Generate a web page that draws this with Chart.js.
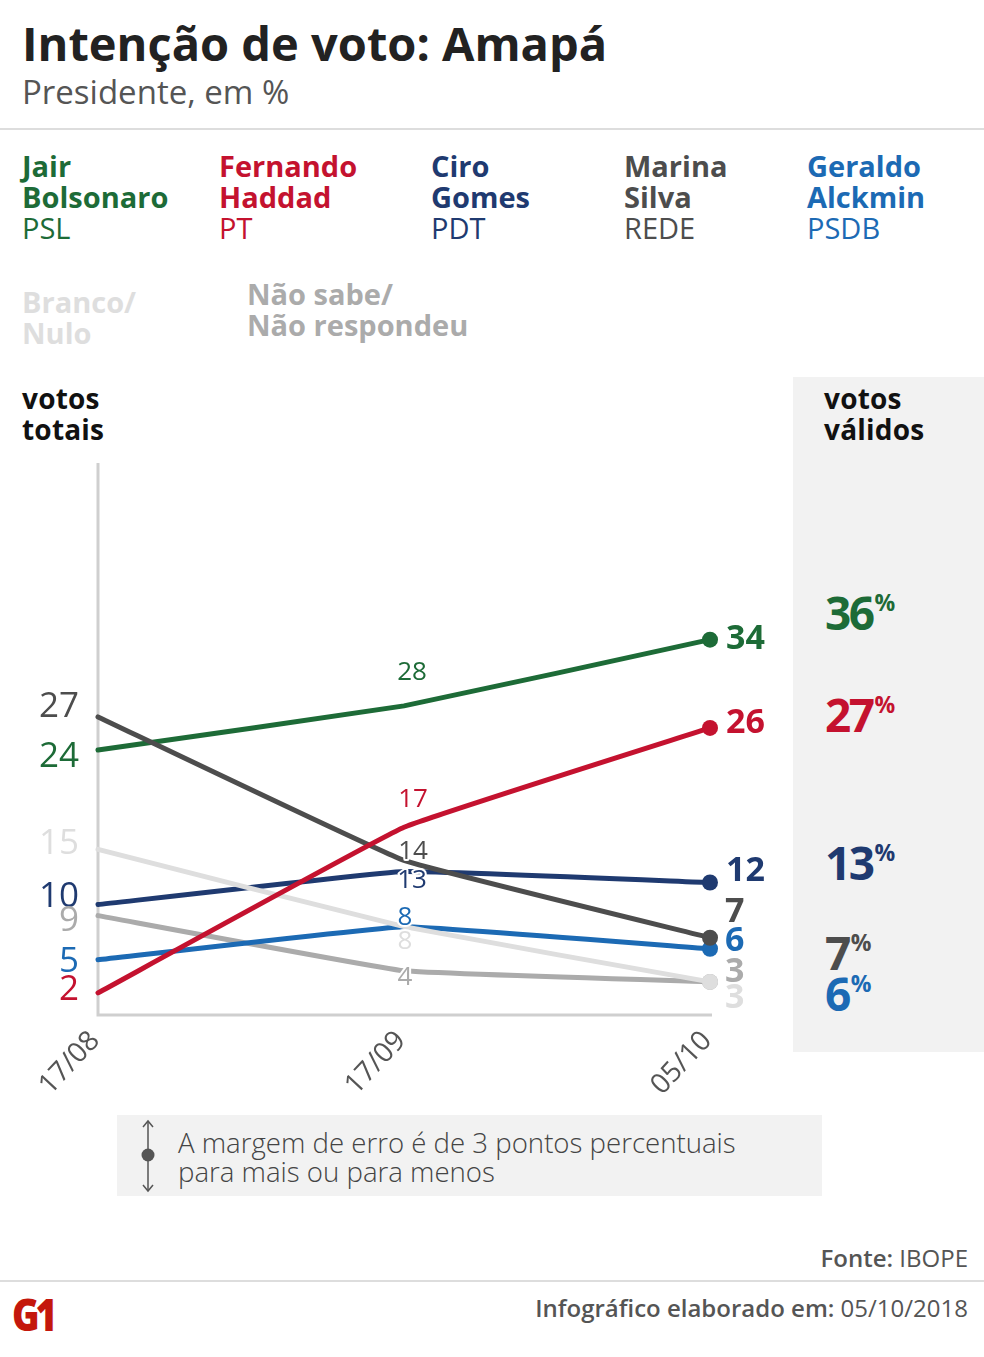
<!DOCTYPE html>
<html lang="pt-BR">
<head>
<meta charset="utf-8">
<title>Intenção de voto: Amapá</title>
<script src="https://cdn.jsdelivr.net/npm/chart.js@4.4.1/dist/chart.umd.min.js"></script>
<style>
  html, body { margin: 0; padding: 0; background: #fff; }
  body { width: 984px; height: 1357px; position: relative; overflow: hidden; font-family: 'Open Sans', sans-serif; color: #222; }
  .abs { position: absolute; white-space: nowrap; }
  #title { left: 22px; top: 20px; font-size: 47px; font-weight: 700; line-height: 1; letter-spacing: 0; color: #222; }
  #subtitle { left: 22px; top: 75px; font-size: 33px; line-height: 1; color: #555; }
  .rule { position: absolute; left: 0; width: 984px; height: 2px; background: #ddd; }
  .legend { font-size: 29px; line-height: 31px; letter-spacing: 0; }
  .legend b { font-weight: 700; }
  .legend span { font-weight: 400; }
  .hdr { font-size: 28px; font-weight: 700; line-height: 31px; color: #111; letter-spacing: 0.2px; }
  #panel { left: 793px; top: 377px; width: 191px; height: 675px; background: #f2f2f2; }
  .pct { font-size: 46px; font-weight: 700; line-height: 1; letter-spacing: -2.5px; }
  .pct sup { font-size: 23px; letter-spacing: -1px; vertical-align: 0; position: relative; top: -19px; margin-left: 2px; }
  #chartBox { left: 0; top: 440px; width: 984px; height: 660px; }
  #errBox { left: 117px; top: 1115px; width: 705px; height: 81px; background: #f2f2f2; }
  #errText { left: 178px; top: 1128px; font-size: 27.6px; font-weight: 300; line-height: 29px; color: #444; letter-spacing: 0; }
  #fonte { right: 16px; top: 1241px; font-size: 24px; color: #555; }
  #info { right: 16px; top: 1291px; font-size: 24px; color: #555; }
  #logo { left: 12px; top: 1292px; font-size: 44px; font-weight: 800; line-height: 1; color: #c4170c; letter-spacing: -5px; transform: scaleX(0.85); transform-origin: left top; }
</style>
</head>
<body>
<div class="abs" id="title">Intenção de voto: Amapá</div>
<div class="abs" id="subtitle">Presidente, em %</div>
<div class="rule" style="top:128px"></div>

<div id="legendWrap"></div>

<div class="abs" id="panel"></div>
<div class="abs hdr" style="left:22px; top:383px">votos<br>totais</div>
<div class="abs hdr" style="left:824px; top:383px">votos<br>válidos</div>
<div id="validWrap"></div>

<div class="abs" id="chartBox"><canvas id="chart"></canvas></div>

<div class="abs" id="errBox"></div>
<svg class="abs" style="left:138px; top:1118px" width="20" height="76" viewBox="0 0 20 76">
  <line x1="10" y1="3" x2="10" y2="73" stroke="#555" stroke-width="1.5"/>
  <polyline points="5,9 10,3 15,9" fill="none" stroke="#555" stroke-width="1.5"/>
  <polyline points="5,67 10,73 15,67" fill="none" stroke="#555" stroke-width="1.5"/>
  <circle cx="10" cy="37" r="6.5" fill="#555"/>
</svg>
<div class="abs" id="errText">A margem de erro é de 3 pontos percentuais<br>para mais ou para menos</div>

<div class="abs" id="fonte"><b style="font-weight:600">Fonte:</b> IBOPE</div>
<div class="rule" style="top:1280px"></div>
<div class="abs" id="info"><b style="font-weight:600">Infográfico elaborado em:</b> 05/10/2018</div>
<div class="abs" id="logo">G1</div>

<script>
// --- Data ---
const dates = ['17/08', '17/09', '05/10'];

const candidates = ['Jair Bolsonaro', 'Fernando Haddad', 'Ciro Gomes', 'Marina Silva', 'Geraldo Alckmin', 'Branco/Nulo', 'Não sabe/Não respondeu'];
const parties = ['PSL', 'PT', 'PDT', 'REDE', 'PSDB', '', ''];

const bolsonaro = [24, 28, 34];
const haddad = [2, 17, 26];
const ciro = [10, 13, 12];
const marina = [27, 14, 7];
const alckmin = [5, 8, 6];
const brancoNulo = [15, 8, 3];
const naoSabe = [9, 4, 3];

// votos válidos (only candidates)
const validVotes = [36, 27, 13, 7, 6];

// --- Styles ---
const colors = ['#1d6b37', '#c4122f', '#1f3a70', '#4d4d4d', '#1c6ab4', '#dedede', '#ababab'];
const seriesValues = [bolsonaro, haddad, ciro, marina, alckmin, brancoNulo, naoSabe];

// label offsets: [startDy, midDx, midDy, endDx, endDy]
const labelOffsets = [
    [7, 8, -33, 16, 0],
    [-3, 9, -28, 16, -5],
    [-8, 8, 9, 16, -11],
    [-10, 9, -9, 15, -25],
    [2, 1, -9, 15, -7],
    [-5, 1, 15, 15, 16],
    [5, 1, 7, 15, -10]
];

// --- Legend (HTML) ---
const legendWrap = document.getElementById('legendWrap');
const legendX = [22, 219, 431, 624, 807];
candidates.slice(0, 5).forEach((name, i) => {
    const [first, ...rest] = name.split(' ');
    const el = document.createElement('div');
    el.className = 'abs legend';
    el.style.left = legendX[i] + 'px';
    el.style.top = '150px';
    el.style.color = colors[i];
    el.innerHTML = `<b>${first}<br>${rest.join(' ')}</b><br><span>${parties[i]}</span>`;
    legendWrap.appendChild(el);
});
[[5, 22, 286], [6, 247, 278]].forEach(([i, x, y]) => {
    const el = document.createElement('div');
    el.className = 'abs legend';
    el.style.left = x + 'px';
    el.style.top = y + 'px';
    el.style.color = colors[i];
    el.innerHTML = `<b>${candidates[i].replace('/', '/<br>')}</b>`;
    legendWrap.appendChild(el);
});

// --- Valid votes column ---
const validWrap = document.getElementById('validWrap');
const validTops = [589, 691, 839, 929, 970];
validVotes.forEach((v, i) => {
    const el = document.createElement('div');
    el.className = 'abs pct';
    el.style.left = '825px';
    el.style.top = validTops[i] + 'px';
    el.style.color = colors[i];
    el.innerHTML = `${v}<sup>%</sup>`;
    validWrap.appendChild(el);
});

// --- Chart ---
const font = "'Open Sans', sans-serif";

const decorPlugin = {
    id: 'decor',
    beforeDatasetsDraw(chart) {
        const { ctx, chartArea, scales } = chart;
        const x0 = chartArea.left;
        const yBase = scales.y.getPixelForValue(0);
        ctx.save();
        ctx.strokeStyle = '#cfcfcf';
        ctx.lineWidth = 3;
        ctx.beginPath();
        ctx.moveTo(x0, chartArea.top);
        ctx.lineTo(x0, yBase);
        ctx.lineTo(scales.x.getPixelForValue(dates.length - 1) + 2, yBase);
        ctx.stroke();

        // date labels, rotated
        ctx.fillStyle = '#555';
        ctx.font = `28px ${font}`;
        ctx.textAlign = 'right';
        ctx.textBaseline = 'middle';
        dates.forEach((d, i) => {
            const x = scales.x.getPixelForValue(i);
            ctx.save();
            ctx.translate(x - 3, yBase + 21);
            ctx.rotate(-47 * Math.PI / 180);
            ctx.fillText(d, 0, 0);
            ctx.restore();
        });
        ctx.restore();
    },
    afterDatasetsDraw(chart) {
        const { ctx } = chart;
        ctx.save();
        ctx.textBaseline = 'middle';
        chart.data.datasets.forEach((ds, di) => {
            const pts = chart.getDatasetMeta(di).data;
            const off = labelOffsets[di];
            const vals = seriesValues[di];
            // start label
            ctx.fillStyle = colors[di];
            ctx.font = `35px ${font}`;
            ctx.textAlign = 'right';
            ctx.fillText(vals[0], pts[0].x - 19, pts[0].y + off[0]);
            // middle label with white halo
            ctx.font = `26px ${font}`;
            ctx.textAlign = 'center';
            ctx.strokeStyle = '#fff';
            ctx.lineWidth = 4;
            ctx.lineJoin = 'round';
            ctx.strokeText(vals[1], pts[1].x + off[1], pts[1].y + off[2]);
            ctx.fillText(vals[1], pts[1].x + off[1], pts[1].y + off[2]);
            // end label
            ctx.font = `700 34px ${font}`;
            ctx.textAlign = 'left';
            ctx.fillText(vals[2], pts[2].x + off[3], pts[2].y + off[4]);
        });
        ctx.restore();
    }
};

// draw order: later entries drawn underneath
const drawOrder = [3, 0, 4, 2, 5, 1, 6];

new Chart(document.getElementById('chart'), {
    type: 'line',
    data: {
        labels: dates,
        datasets: seriesValues.map((vals, i) => ({
            label: candidates[i],
            data: vals,
            borderColor: colors[i],
            backgroundColor: colors[i],
            borderWidth: 5,
            tension: 0.08,
            pointRadius: [0, 0, 8],
            pointHoverRadius: [0, 0, 8],
            pointBorderWidth: 0,
            order: drawOrder[i],
            borderCapStyle: 'round'
        }))
    },
    options: {
        responsive: true,
        maintainAspectRatio: false,
        animation: false,
        events: [],
        layout: { padding: { left: 98, right: 274, top: 23, bottom: 85 } },
        scales: {
            x: { type: 'category', display: false, offset: false },
            y: { display: false, min: 0, max: 50 }
        },
        plugins: {
            legend: { display: false },
            tooltip: { enabled: false }
        }
    },
    plugins: [decorPlugin]
});
</script>
</body>
</html>
